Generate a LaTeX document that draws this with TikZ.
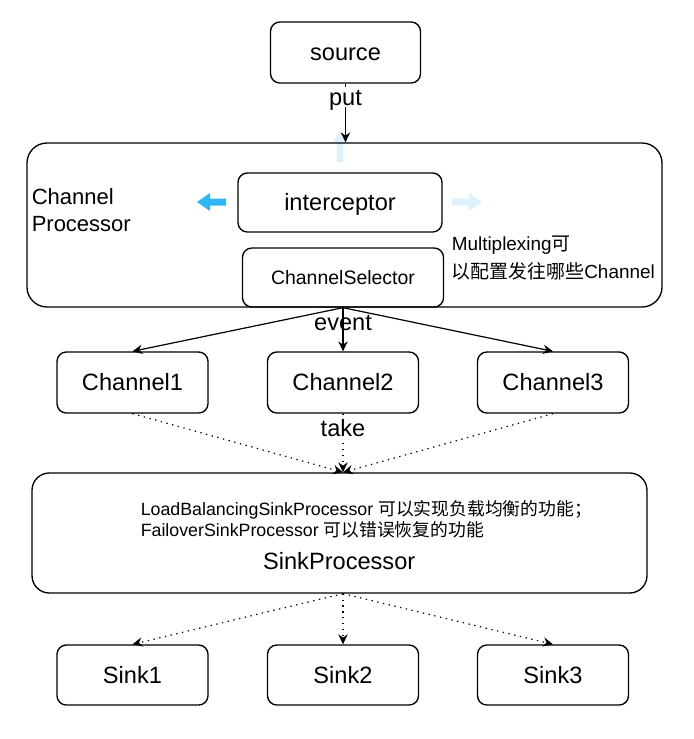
\documentclass[tikz,border=0pt]{standalone}
\usepackage{fontspec}
\setmainfont{Liberation Sans}
\newfontfamily\cjk{Noto Sans CJK SC}
\usetikzlibrary{arrows.meta}
\definecolor{arrowblue}{HTML}{2FB6F2}
\definecolor{lightblue}{HTML}{DDF2FC}
\begin{document}
\begin{tikzpicture}[x=0.75pt,y=-0.75pt,
  box/.style={draw=black, line width=1pt, rounded corners=7pt, inner sep=0pt,
    font=\fontsize{17.7}{21}\selectfont, text height=12.7pt, text depth=0.7pt},
  biglbl/.style={font=\fontsize{17.7}{21}\selectfont, text height=12.7pt, text depth=0.7pt, inner sep=1pt},
  conn/.style={-{Stealth[length=7.5pt,width=7pt,inset=2.5pt]}, line width=0.9pt},
  dotconn/.style={conn, dash pattern=on 1pt off 3.4pt},
  smallbox/.style={minimum width=113.25pt, minimum height=45.75pt},
]
\useasboundingbox (0,0) rectangle (693,739);

% light blue upward arrow (under the border)
\fill[lightblue] (340,131) -- (348,143) -- (343.3,143) -- (343.3,162) -- (336.7,162) -- (336.7,143) -- (332,143) -- cycle;

% source
\node[box, minimum width=112.5pt, minimum height=45.75pt] (source) at (345.5,52.5) {source};

% Channel Processor container
\node[box, rounded corners=15pt, minimum width=476.25pt, minimum height=123pt] (cp) at (344.5,225) {};
\node[anchor=base west, align=left, inner sep=0pt, font=\fontsize{16.5}{20.5}\selectfont] (cptext) at (31.5,231.7) {Channel\\Processor};

% blue arrows
\fill[arrowblue] (197,202) -- (210,193) -- (210,198.5) -- (226,198.5) -- (226,205.5) -- (210,205.5) -- (210,211) -- cycle;
\fill[lightblue] (482,202) -- (469,193) -- (469,198.5) -- (452,198.5) -- (452,205.5) -- (469,205.5) -- (469,211) -- cycle;

\node[box, minimum width=153pt, minimum height=44.25pt] (interceptor) at (340,202.5) {interceptor};
\node[box, minimum width=150.75pt, minimum height=44.25pt, font=\fontsize{14.6}{17}\selectfont, text height=10.5pt, text depth=0.5pt] (selector) at (343,277.5) {ChannelSelector};

\node[anchor=base west, align=left, inner sep=0pt, font=\fontsize{14.2}{20.3}\selectfont] (multi) at (451.5,278) {Multiplexing{\cjk 可}\\{\cjk 以配置发往哪些}Channel};

% channels
\node[box, smallbox] (ch1) at (132.5,382.5) {Channel1};
\node[box, smallbox] (ch2) at (343,382.5) {Channel2};
\node[box, smallbox] (ch3) at (553,382.5) {Channel3};

% Sink processor
\node[box, rounded corners=13pt, minimum width=461.25pt, minimum height=90pt] (sp) at (339.5,533) {};
\node[anchor=base west, align=left, inner sep=0pt, font=\fontsize{13.35}{15.75}\selectfont] (desc) at (140.5,536.5) {LoadBalancingSinkProcessor {\cjk 可以实现负载均衡的功能；}\\FailoverSinkProcessor {\cjk 可以错误恢复的功能}};
\node[biglbl, inner sep=0pt] (splabel) at (339.2,561.3) {SinkProcessor};

% sinks
\node[box, smallbox, minimum height=45pt] (s1) at (132.5,675) {Sink1};
\node[box, smallbox, minimum height=45pt] (s2) at (343,675) {Sink2};
\node[box, smallbox, minimum height=45pt] (s3) at (553,675) {Sink3};

% connectors
\draw[conn] (source.south) -- (source.south |- cp.north) node[pos=0.23, biglbl, fill=white] {put};

\draw[conn] (selector.south) -- (ch1.north);
\draw[conn] (selector.south) -- (ch2.north) node[pos=0.33, biglbl, inner sep=0pt] {event};
\draw[conn] (selector.south) -- (ch3.north);

\coordinate (spin) at (ch2.south |- sp.north);
\coordinate (spout) at (ch2.south |- sp.south);
\draw[dotconn] (ch1.south) -- (spin);
\draw[dotconn] (ch3.south) -- (spin);
\draw[dotconn] (ch2.south) -- (spin) node[pos=0.26, biglbl, fill=white] {take};

\draw[dotconn] (spout) -- (s1.north);
\draw[dotconn] (spout) -- (s2.north);
\draw[dotconn] (spout) -- (s3.north);
\end{tikzpicture}
\end{document}
